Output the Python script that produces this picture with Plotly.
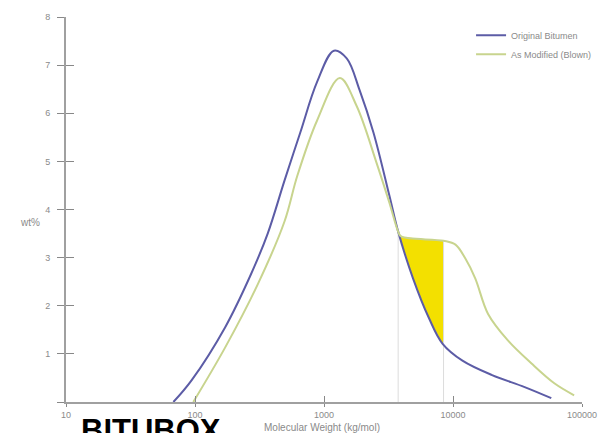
import plotly.graph_objects as go

# ---- data ----
blue_name = "Original Bitumen"
blue_mw = [68, 94, 171, 271, 366, 494, 655, 884, 1194, 1500, 1888, 2417, 3205,
           3758, 4897, 6493, 8310, 11840, 20080, 35940, 57800]
blue_wt = [0.0, 0.45, 1.55, 2.65, 3.5, 4.6, 5.6, 6.65, 7.3, 7.14, 6.48, 5.6, 4.3,
           3.54, 2.57, 1.75, 1.21, 0.86, 0.56, 0.31, 0.08]

green_name = "As Modified (Blown)"
green_mw = [97, 171, 307, 494, 621, 884, 1327, 1791, 2547, 3205, 3758, 3963,
            8450, 10450, 12470, 14870, 18700, 26630, 40640, 61000, 86900]
green_wt = [0.0, 1.13, 2.45, 3.75, 4.7, 5.85, 6.73, 6.15, 4.98, 4.15, 3.54, 3.44,
            3.35, 3.27, 2.98, 2.57, 1.83, 1.28, 0.8, 0.39, 0.14]

shade_mw = [3758, 3963, 4897, 6493, 8310, 8450]
shade_upper = [3.54, 3.44, 3.41, 3.38, 3.36, 3.35]
shade_lower = [3.54, 3.35, 2.57, 1.75, 1.21, 1.18]

x_ticks = [10, 100, 1000, 10000, 100000]
x_tick_labels = ["10", "100", "1000", "10000", "100000"]
y_ticks = [0, 1, 2, 3, 4, 5, 6, 7, 8]
y_tick_labels = ["", "1", "2", "3", "4", "5", "6", "7", "8"]

BLUE = "#5c5ca6"
GREEN = "#c8d48e"
YELLOW = "#f3e000"
AXIS = "#a0a0a0"
TEXT = "#8a8a8a"

fig = go.Figure()

# shaded area between curves
fig.add_trace(go.Scatter(
    x=shade_mw + shade_mw[::-1],
    y=shade_upper + shade_lower[::-1],
    fill="toself", fillcolor=YELLOW, line=dict(width=0, color=YELLOW),
    mode="lines", showlegend=False, hoverinfo="skip"))

# vertical guide lines
for m, top in [(shade_mw[0], shade_upper[0]), (shade_mw[-1], shade_upper[-1])]:
    fig.add_trace(go.Scatter(x=[m, m], y=[0, top], mode="lines",
                             line=dict(color="#dcdcdc", width=1),
                             showlegend=False, hoverinfo="skip"))

fig.add_trace(go.Scatter(x=blue_mw, y=blue_wt, mode="lines", name=blue_name,
                         line=dict(color=BLUE, width=2, shape="spline", smoothing=1.0)))
fig.add_trace(go.Scatter(x=green_mw, y=green_wt, mode="lines", name=green_name,
                         line=dict(color=GREEN, width=2, shape="spline", smoothing=1.0)))

# invisible trace to carry the inside-tick overlay axes
fig.add_trace(go.Scatter(x=blue_mw, y=blue_wt, xaxis="x2", yaxis="y2", mode="lines",
                         line=dict(width=0), opacity=0, showlegend=False, hoverinfo="skip"))

fig.update_layout(
    width=609, height=433,
    margin=dict(l=66, r=21, t=13, b=31),
    paper_bgcolor="white", plot_bgcolor="white",
    font=dict(family="Liberation Sans, Arial, sans-serif", color=TEXT, size=9),
    xaxis=dict(type="log", range=[1, 5], tickvals=x_ticks, ticktext=x_tick_labels,
               showgrid=False, zeroline=False, showline=True, linecolor=AXIS, linewidth=2,
               ticks="outside", ticklen=3, tickcolor="#888", tickwidth=1,
               tickfont=dict(size=9, color=TEXT)),
    yaxis=dict(range=[0, 8.0], tickvals=y_ticks, ticktext=y_tick_labels,
               showgrid=False, zeroline=False, showline=True, linecolor=AXIS, linewidth=2,
               ticks="outside", ticklen=7, tickcolor="#888", tickwidth=1,
               ticklabelstandoff=5, tickfont=dict(size=9, color=TEXT)),
    xaxis2=dict(type="log", range=[1, 5], overlaying="x", tickvals=x_ticks[1:4],
                showticklabels=False, showgrid=False, zeroline=False, showline=False,
                ticks="inside", ticklen=6, tickcolor="#888", tickwidth=1),
    yaxis2=dict(range=[0, 8.0], overlaying="y", tickvals=y_ticks[1:],
                showticklabels=False, showgrid=False, zeroline=False, showline=False,
                ticks="inside", ticklen=8, tickcolor="#888", tickwidth=1),
    legend=dict(x=0.785, y=0.99, xanchor="left", yanchor="top",
                bgcolor="rgba(0,0,0,0)", font=dict(size=9, color=TEXT),
                itemwidth=30, tracegroupgap=0),
    showlegend=True,
    annotations=[
        dict(text="wt%", xref="paper", yref="paper", x=-0.069, y=0.465,
             xanchor="center", showarrow=False, font=dict(size=10, color=TEXT)),
        dict(text="Molecular Weight (kg/mol)", xref="paper", yref="paper",
             x=0.496, y=-0.067, xanchor="center", yanchor="middle",
             showarrow=False, font=dict(size=10, color=TEXT)),
        dict(text="<b>BITUBOX</b>", xref="paper", yref="paper",
             x=0.025, y=-0.024, xanchor="left", yanchor="top",
             showarrow=False, font=dict(size=31, color="black",
                                        family="Liberation Sans, Arial, sans-serif")),
    ],
)

fig.write_html("out.html", config={"displayModeBar": False},
               post_script="document.body.style.margin='0';document.body.style.overflow='hidden';")
